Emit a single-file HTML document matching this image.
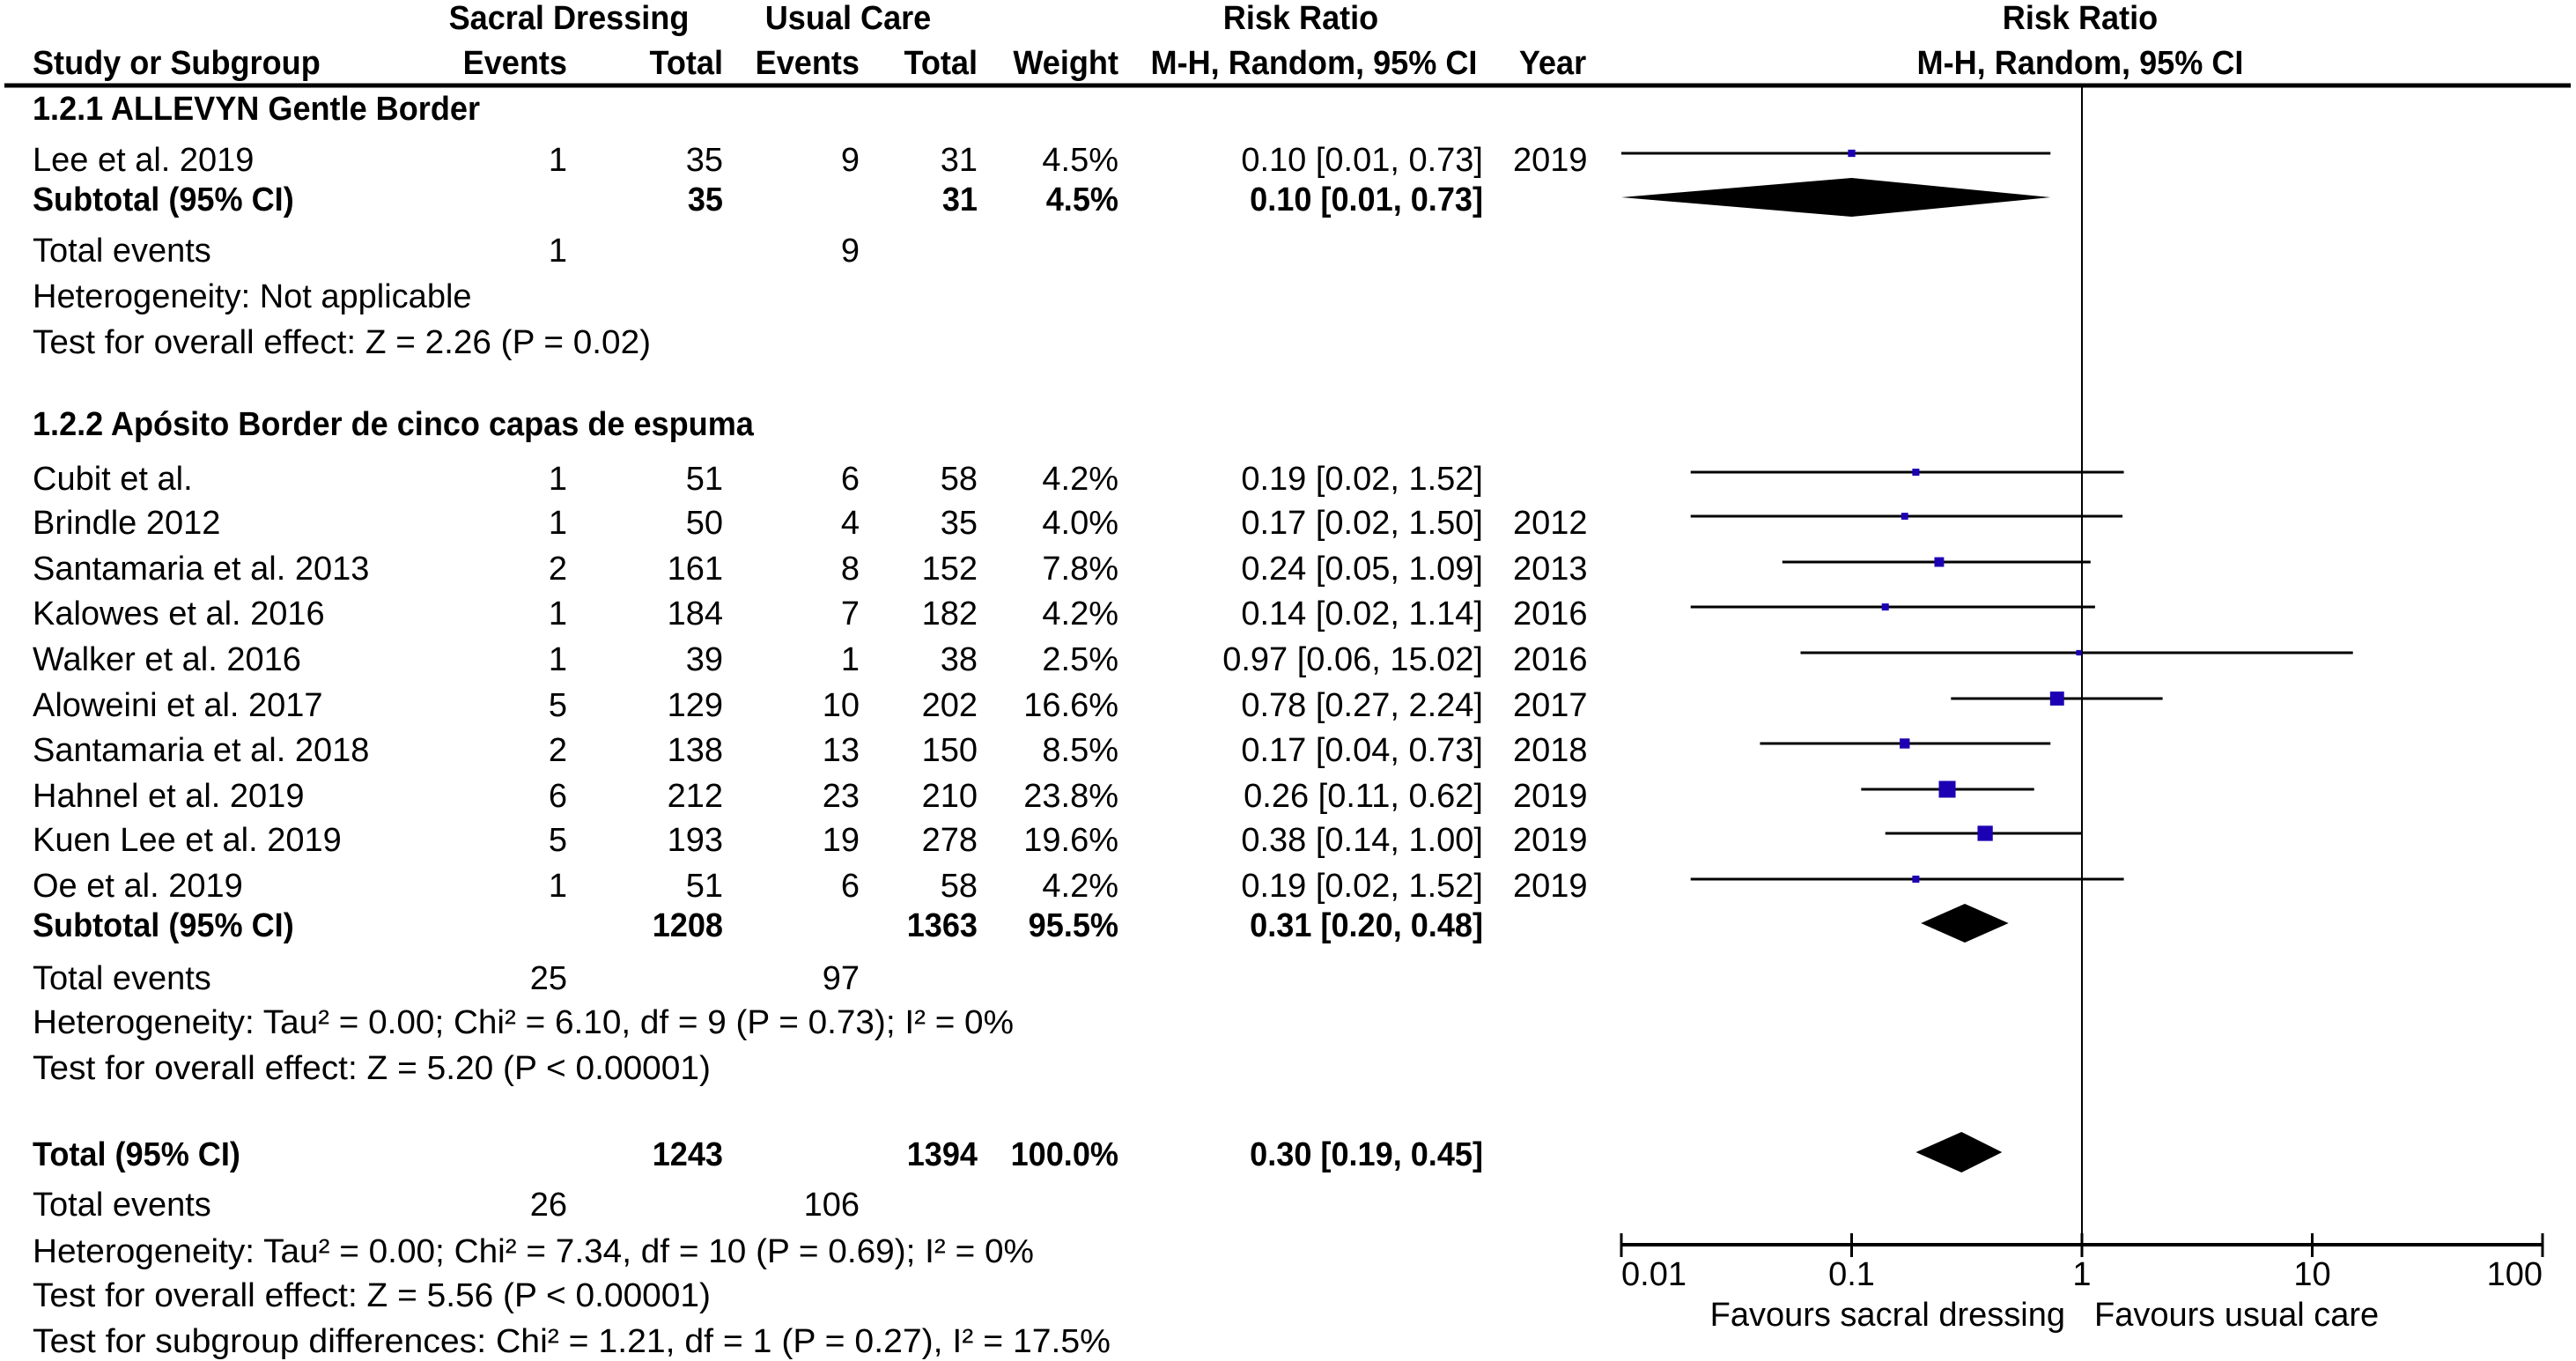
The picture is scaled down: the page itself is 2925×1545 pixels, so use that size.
<!DOCTYPE html>
<html><head><meta charset="utf-8"><style>
html,body{margin:0;padding:0;background:#fff;}
svg{display:block;font-family:"Liberation Sans",Arial,sans-serif;}
</style></head><body>
<svg id="plot" width="2925" height="1545" viewBox="0 0 2925 1545" xmlns="http://www.w3.org/2000/svg">
<line x1="5" y1="97" x2="2919" y2="97" stroke="#000" stroke-width="5"/>
<g id="txt"></g>
<g id="marks"></g>
</svg>
<script>
// ---- data ----
const studies = ["Lee et al. 2019","Cubit et al.","Brindle 2012","Santamaria et al. 2013","Kalowes et al. 2016","Walker et al. 2016","Aloweini et al. 2017","Santamaria et al. 2018","Hahnel et al. 2019","Kuen Lee et al. 2019","Oe et al. 2019"];
const sdEvents = [1,1,1,2,1,1,5,2,6,5,1];
const sdTotal = [35,51,50,161,184,39,129,138,212,193,51];
const ucEvents = [9,6,4,8,7,1,10,13,23,19,6];
const ucTotal = [31,58,35,152,182,38,202,150,210,278,58];
const weights = [4.5,4.2,4.0,7.8,4.2,2.5,16.6,8.5,23.8,19.6,4.2];
const rr = [0.10,0.19,0.17,0.24,0.14,0.97,0.78,0.17,0.26,0.38,0.19];
const lo = [0.01,0.02,0.02,0.05,0.02,0.06,0.27,0.04,0.11,0.14,0.02];
const hi = [0.73,1.52,1.50,1.09,1.14,15.02,2.24,0.73,0.62,1.00,1.52];
const years = ["2019","","2012","2013","2016","2016","2017","2018","2019","2019","2019"];
const pooledRR = [0.10,0.31,0.30];
const pooledLo = [0.01,0.20,0.19];
const pooledHi = [0.73,0.48,0.45];
const tickVals = [0.01,0.1,1,10,100];
const tickLabels = ["0.01","0.1","1","10","100"];

// ---- layout ----
const rowY = [181,543,593,645,696,748,800,851,903,953,1005];
const pooledY = [226,1050,1310];
const xAt = v => 2364 + 261.5*Math.log10(v);
const axisY = 1413;
const NS = "http://www.w3.org/2000/svg";
const T = document.getElementById('txt'), M = document.getElementById('marks');

function t(x,y,s,anchor,bold,name,len){
  const e=document.createElementNS(NS,'text');
  e.setAttribute('x',x);e.setAttribute('y',y+13);
  e.setAttribute('font-size','38');
  e.setAttribute('text-anchor',anchor||'start');
  if(bold) e.setAttribute('font-weight','bold');
  if(len){e.setAttribute('textLength',len);e.setAttribute('lengthAdjust','spacingAndGlyphs');}
  else{
    const sc = bold?0.95:1.0;
    e.setAttribute('transform','translate('+x+' 0) scale('+sc+' 1) translate('+(-x)+' 0)');
  }
  e.textContent=s;
  
  
  T.appendChild(e);return e;
}
// headers
t(646,20,"Sacral Dressing","middle",true,"header-sacral-dressing");
t(963,20,"Usual Care","middle",true,"header-usual-care");
t(1477,20,"Risk Ratio","middle",true,"header-risk-ratio");
t(2362,20,"Risk Ratio","middle",true,"header-plot-risk-ratio");
t(37,71,"Study or Subgroup","start",true,"header-study");
t(644,71,"Events","end",true,"header-sd-events");
t(821,71,"Total","end",true,"header-sd-total");
t(976,71,"Events","end",true,"header-uc-events");
t(1110,71,"Total","end",true,"header-uc-total");
t(1270,71,"Weight","end",true,"header-weight");
t(1492,71,"M-H, Random, 95% CI","middle",true,"header-ci");
t(1763,71,"Year","middle",true,"header-year");
t(2362,71,"M-H, Random, 95% CI","middle",true,"header-plot-ci");

t(37,123,"1.2.1 ALLEVYN Gentle Border","start",true,"subgroup-1-title");
t(37,481,"1.2.2 Apósito Border de cinco capas de espuma","start",true,"subgroup-2-title");

const f2=v=>v.toFixed(2);
for(let i=0;i<studies.length;i++){
  const y=rowY[i];
  t(37,y,studies[i],"start",false,"study-label");
  t(644,y,String(sdEvents[i]),"end",false,"sd-events");
  t(821,y,String(sdTotal[i]),"end",false,"sd-total");
  t(976,y,String(ucEvents[i]),"end",false,"uc-events");
  t(1110,y,String(ucTotal[i]),"end",false,"uc-total");
  t(1270,y,weights[i].toFixed(1)+"%","end",false,"weight");
  t(1684,y,f2(rr[i])+" ["+f2(lo[i])+", "+f2(hi[i])+"]","end",false,"risk-ratio-ci");
  if(years[i]) t(1718,y,years[i],"start",false,"year");
}
// subtotal rows
const subT=[[35,31,"4.5%"],[1208,1363,"95.5%"],[1243,1394,"100.0%"]];
const subL=["Subtotal (95% CI)","Subtotal (95% CI)","Total (95% CI)"];
for(let k=0;k<3;k++){
  const y=pooledY[k];
  t(37,y,subL[k],"start",true,"subtotal-label");
  t(821,y,String(subT[k][0]),"end",true,"subtotal-sd-total");
  t(1110,y,String(subT[k][1]),"end",true,"subtotal-uc-total");
  t(1270,y,subT[k][2],"end",true,"subtotal-weight");
  t(1684,y,f2(pooledRR[k])+" ["+f2(pooledLo[k])+", "+f2(pooledHi[k])+"]","end",true,"subtotal-ci");
}
// footer text
t(37,284,"Total events","start",false,"total-events-label");
t(644,284,"1","end",false,"total-events-sd");t(976,284,"9","end",false,"total-events-uc");
t(37,336,"Heterogeneity: Not applicable","start",false,"heterogeneity-1");
t(37,388,"Test for overall effect: Z = 2.26 (P = 0.02)","start",false,"overall-effect-1",702);
t(37,1110,"Total events","start",false,"total-events-label");
t(644,1110,"25","end",false,"total-events-sd");t(976,1110,"97","end",false,"total-events-uc");
t(37,1160,"Heterogeneity: Tau² = 0.00; Chi² = 6.10, df = 9 (P = 0.73); I² = 0%","start",false,"heterogeneity-2",1114);
t(37,1212,"Test for overall effect: Z = 5.20 (P < 0.00001)","start",false,"overall-effect-2",770);
t(37,1367,"Total events","start",false,"total-events-label");
t(644,1367,"26","end",false,"total-events-sd");t(976,1367,"106","end",false,"total-events-uc");
t(37,1420,"Heterogeneity: Tau² = 0.00; Chi² = 7.34, df = 10 (P = 0.69); I² = 0%","start",false,"heterogeneity-total",1137);
t(37,1470,"Test for overall effect: Z = 5.56 (P < 0.00001)","start",false,"overall-effect-total",770);
t(37,1522,"Test for subgroup differences: Chi² = 1.21, df = 1 (P = 0.27), I² = 17.5%","start",false,"subgroup-differences",1224);

// ---- marks ----
function line(x1,y1,x2,y2,w){
  const l=document.createElementNS(NS,'line');
  l.setAttribute('x1',x1);l.setAttribute('y1',y1);l.setAttribute('x2',x2);l.setAttribute('y2',y2);
  l.setAttribute('stroke','#000');l.setAttribute('stroke-width',w);
  M.appendChild(l);return l;
}
const ref=line(xAt(1),97,xAt(1),axisY,2);


for(let i=0;i<studies.length;i++){
  const y=rowY[i]-7;
  const ci=line(xAt(lo[i]),y,xAt(hi[i]),y,3);
  
  
  const s=3.9*Math.sqrt(weights[i]);
  const r=document.createElementNS(NS,'rect');
  r.setAttribute('x',xAt(rr[i])-s/2);r.setAttribute('y',y-s/2);
  r.setAttribute('width',s);r.setAttribute('height',s);r.setAttribute('fill','#1c00b4');
  
  
  M.appendChild(r);
}
const dh=[22,22,23];
for(let k=0;k<3;k++){
  const y=pooledY[k]-2;
  const p=document.createElementNS(NS,'polygon');
  p.setAttribute('points',[xAt(pooledLo[k])+','+y,xAt(pooledRR[k])+','+(y-dh[k]),xAt(pooledHi[k])+','+y,xAt(pooledRR[k])+','+(y+dh[k])].join(' '));
  p.setAttribute('fill','#000');
  
  
  M.appendChild(p);
}
const ax=line(xAt(0.01),axisY,xAt(100),axisY,4);


for(let i=0;i<tickVals.length;i++){
  const x=xAt(tickVals[i]);
  const tk=line(x,axisY-13,x,axisY+14,3);
  
  
  const anc = i===0?'start':(i===tickVals.length-1?'end':'middle');
  t(x,1446,tickLabels[i],anc,false,"x-tick-label");
}
t(2345,1492,"Favours sacral dressing","end",false,"favours-sacral-label");
t(2378,1492,"Favours usual care","start",false,"favours-usual-label");
</script>
</body></html>
